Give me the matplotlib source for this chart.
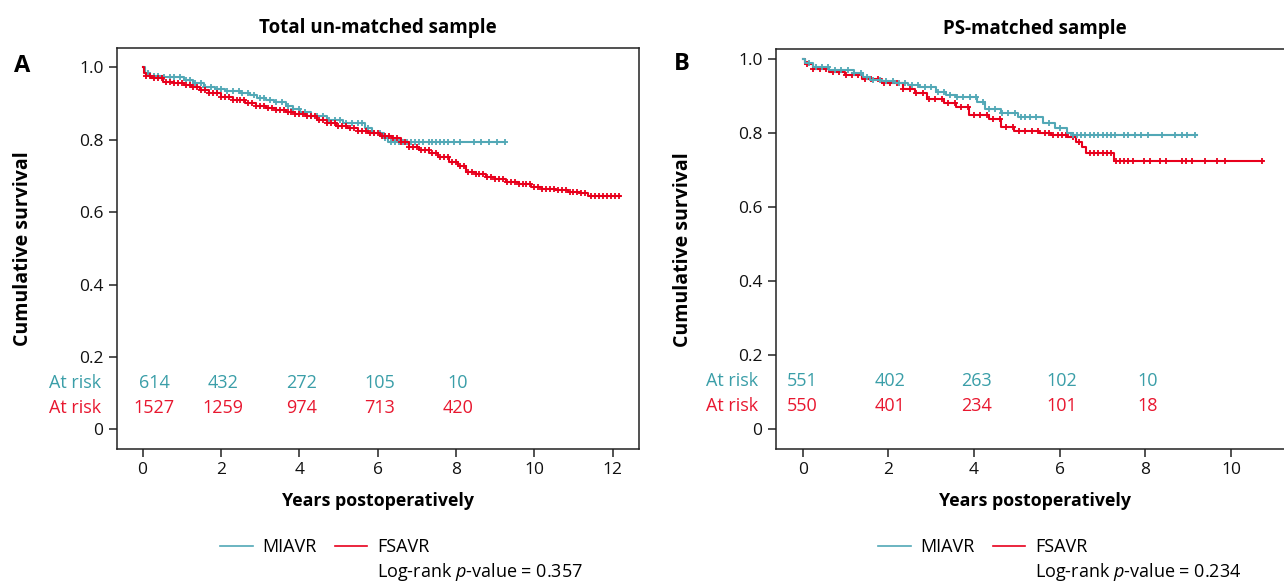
import numpy as np
import matplotlib
matplotlib.use('Agg')
import matplotlib.pyplot as plt
from matplotlib.lines import Line2D

plt.rcParams['font.family'] = ['Open Sans', 'DejaVu Sans']
plt.rcParams['mathtext.fontset'] = 'custom'
plt.rcParams['mathtext.rm'] = 'Open Sans'
plt.rcParams['mathtext.it'] = 'Open Sans:italic'

TEAL = '#52a8b6'
RED = '#e8001c'
TEAL_TXT = '#3a9ea8'
RED_TXT = '#e8172f'

# Panel A - total un-matched sample (step breakpoints)
a_miavr_t = [0, 0.05, 0.2, 0.53, 1.05, 1.3, 1.57, 1.85, 2.1, 2.5, 2.75, 2.93, 3.15, 3.35,
             3.66, 3.85, 4.02, 4.29, 4.7, 5.12, 5.69, 5.85, 6.16, 6.27, 9.25]
a_miavr_s = [1.0, 0.985, 0.976, 0.972, 0.965, 0.955, 0.945, 0.94, 0.935, 0.93, 0.922, 0.914,
             0.91, 0.905, 0.893, 0.885, 0.877, 0.864, 0.854, 0.845, 0.831, 0.818, 0.804, 0.794, 0.794]
a_miavr_cens = [0.15, 0.3, 0.4, 0.55, 0.7, 0.8, 0.95, 1.1, 1.2, 1.35, 1.5, 1.6, 1.75, 1.9, 2.0,
                2.15, 2.3, 2.45, 2.55, 2.7, 2.85, 3.0, 3.1, 3.25, 3.4, 3.55, 3.7, 3.85, 4.0, 4.15,
                4.3, 4.45, 4.6, 4.75, 4.9, 5.05, 5.2, 5.35, 5.5, 5.6, 5.75, 5.9, 6.05, 6.2, 6.35,
                6.45, 6.55, 6.65, 6.75, 6.85, 6.95, 7.05, 7.15, 7.3, 7.4, 7.5, 7.6, 7.7, 7.8, 7.95,
                8.1, 8.45, 8.65, 8.85, 9.05, 9.25]

a_fsavr_t = [0, 0.03, 0.1, 0.22, 0.53, 0.8, 1.05, 1.25, 1.47, 1.7, 1.99, 2.3, 2.62, 2.9, 3.14,
             3.4, 3.66, 3.9, 4.18, 4.45, 4.7, 4.95, 5.22, 5.5, 5.75, 6.05, 6.37, 6.6, 6.79, 7.05,
             7.31, 7.55, 7.83, 8.05, 8.25, 8.5, 8.77, 9.0, 9.29, 9.6, 9.92, 10.2, 10.54, 10.85,
             11.17, 11.38, 12.2]
a_fsavr_s = [1.0, 0.985, 0.975, 0.97, 0.96, 0.956, 0.951, 0.945, 0.937, 0.928, 0.919, 0.91, 0.9,
             0.893, 0.887, 0.882, 0.877, 0.871, 0.864, 0.855, 0.845, 0.838, 0.831, 0.824, 0.818,
             0.811, 0.804, 0.793, 0.781, 0.772, 0.762, 0.751, 0.739, 0.726, 0.712, 0.705, 0.698,
             0.691, 0.684, 0.677, 0.670, 0.665, 0.661, 0.656, 0.652, 0.643, 0.643]
a_fsavr_cens = [0.1, 0.2, 0.3, 0.4, 0.5, 0.6, 0.7, 0.8, 0.9, 1.0, 1.1, 1.2, 1.3, 1.4, 1.5, 1.6,
                1.7, 1.8, 1.9, 2.0, 2.1, 2.2, 2.3, 2.4, 2.5, 2.6, 2.7, 2.8, 2.9, 3.0, 3.1, 3.2,
                3.3, 3.4, 3.5, 3.6, 3.7, 3.8, 3.9, 4.0, 4.1, 4.2, 4.3, 4.4, 4.5, 4.6, 4.7, 4.8,
                4.9, 5.0, 5.1, 5.2, 5.3, 5.4, 5.5, 5.6, 5.7, 5.8, 5.9, 6.0, 6.1, 6.2, 6.3, 6.4,
                6.5, 6.6, 6.7, 6.8, 6.9, 7.0, 7.1, 7.2, 7.3, 7.4, 7.5, 7.6, 7.7, 7.8, 7.9, 8.0,
                8.1, 8.2, 8.3, 8.4, 8.5, 8.6, 8.7, 8.8, 8.9, 9.0, 9.1, 9.2, 9.3, 9.4, 9.5, 9.6,
                9.7, 9.8, 9.9, 10.0, 10.1, 10.2, 10.3, 10.4, 10.5, 10.6, 10.7, 10.8, 10.9, 11.0,
                11.1, 11.2, 11.3, 11.45, 11.55, 11.65, 11.75, 11.85, 11.95, 12.05, 12.15]

# Panel B - PS-matched sample
b_miavr_t = [0, 0.05, 0.23, 0.61, 1.19, 1.4, 1.57, 1.85, 2.15, 2.45, 2.72, 3.11, 3.35, 3.59,
             4.07, 4.26, 4.64, 5.03, 5.6, 5.89, 6.18, 6.3, 9.2]
b_miavr_s = [1.0, 0.988, 0.978, 0.969, 0.96, 0.95, 0.942, 0.938, 0.935, 0.928, 0.922, 0.91,
             0.902, 0.895, 0.883, 0.863, 0.852, 0.843, 0.826, 0.811, 0.798, 0.793, 0.793]
b_miavr_cens = [0.15, 0.3, 0.45, 0.6, 0.75, 0.9, 1.05, 1.2, 1.35, 1.5, 1.65, 1.8, 1.95, 2.1,
                2.25, 2.4, 2.55, 2.7, 2.85, 3.0, 3.15, 3.3, 3.45, 3.6, 3.75, 3.9, 4.05, 4.2,
                4.35, 4.5, 4.65, 4.8, 4.95, 5.1, 5.2, 5.3, 5.45, 5.75, 6.0, 6.3, 6.4, 6.5, 6.6,
                6.7, 6.8, 6.9, 7.0, 7.1, 7.2, 7.3, 7.5, 7.6, 7.75, 7.9, 8.05, 8.4, 8.7, 8.85,
                8.97, 9.17]

b_fsavr_t = [0, 0.05, 0.23, 0.61, 0.99, 1.38, 1.86, 2.34, 2.63, 2.91, 3.3, 3.59, 3.88, 4.36,
             4.64, 4.93, 5.51, 5.8, 6.18, 6.37, 6.52, 6.61, 7.26, 10.75]
b_fsavr_s = [1.0, 0.985, 0.973, 0.964, 0.955, 0.944, 0.935, 0.919, 0.906, 0.892, 0.879, 0.868,
             0.847, 0.836, 0.816, 0.805, 0.799, 0.793, 0.789, 0.775, 0.762, 0.744, 0.724, 0.724]
b_fsavr_cens = [0.1, 0.25, 0.4, 0.55, 0.7, 0.85, 1.0, 1.15, 1.3, 1.45, 1.6, 1.75, 1.9, 2.05,
                2.2, 2.35, 2.5, 2.65, 2.8, 2.95, 3.1, 3.25, 3.4, 3.55, 3.7, 3.85, 4.0, 4.15,
                4.3, 4.45, 4.6, 4.75, 4.9, 5.05, 5.2, 5.35, 5.5, 5.65, 5.75, 5.85, 5.95, 6.05,
                6.15, 6.3, 6.45, 6.7, 6.8, 6.9, 7.0, 7.1, 7.2, 7.32, 7.4, 7.5, 7.6, 7.72, 7.96,
                8.1, 8.34, 8.48, 8.86, 8.96, 9.1, 9.39, 9.68, 9.87, 10.72]

risk_years = [0, 2, 4, 6, 8]
a_risk_miavr = [614, 432, 272, 105, 10]
a_risk_fsavr = [1527, 1259, 974, 713, 420]
b_risk_miavr = [551, 402, 263, 102, 10]
b_risk_fsavr = [550, 401, 234, 101, 18]

y_ticks = [0, 0.2, 0.4, 0.6, 0.8, 1.0]
y_ticklabels = ['0', '0.2', '0.4', '0.6', '0.8', '1.0']


def surv_at(times, surv, t):
    i = np.searchsorted(times, t, side='right') - 1
    return np.asarray(surv)[i]


def km(ax, t, s, cens, color):
    ax.step(t, s, where='post', color=color, lw=1.5, zorder=3)
    ax.plot(cens, surv_at(t, s, cens), ls='none', marker='+', ms=5, mew=1.3,
            color=color, zorder=3)


W, H = 1284, 584
fig = plt.figure(figsize=(W / 100, H / 100), dpi=100)


def px_axes(l, t, r, b):
    return fig.add_axes([l / W, 1 - b / H, (r - l) / W, (b - t) / H])


axA = px_axes(116.7, 48, 639.3, 449.3)
axB = px_axes(775.7, 49.3, 1294, 449.3)

panels = [
    (axA, 'Total un-matched sample', 'A', (-0.66, 12.68), (-0.055, 1.053),
     [(a_miavr_t, a_miavr_s, a_miavr_cens, TEAL), (a_fsavr_t, a_fsavr_s, a_fsavr_cens, RED)],
     a_risk_miavr, a_risk_fsavr, 0.3, '0.357', [0, 2, 4, 6, 8, 10, 12], 220),
    (axB, 'PS-matched sample', 'B', (-0.63, 11.47), (-0.056, 1.025),
     [(b_fsavr_t, b_fsavr_s, b_fsavr_cens, RED), (b_miavr_t, b_miavr_s, b_miavr_cens, TEAL)],
     b_risk_miavr, b_risk_fsavr, 0.0, '0.234', [0, 2, 4, 6, 8, 10], 878),
]

for ax, title, letter, xl, yl, curves, rm, rf, shift, pval, xt, leg_x in panels:
    for t, s, c, col in curves:
        km(ax, t, s, c, col)
    ax.set_xlim(*xl)
    ax.set_ylim(*yl)
    ax.set_xticks(xt)
    ax.set_yticks(y_ticks)
    ax.set_yticklabels(y_ticklabels)
    ax.tick_params(labelsize=12.5, length=6, width=1.1, color='#222222', labelcolor='#111111')
    for sp in ax.spines.values():
        sp.set_linewidth(1.1)
        sp.set_color('#222222')
    ax.set_title(title, fontsize=13.5, fontweight='bold', pad=11)
    ax.set_xlabel('Years postoperatively', fontsize=12.8, fontweight='bold', labelpad=10)
    ax.set_ylabel('Cumulative survival', fontsize=14, fontweight='bold')
    ax.yaxis.set_label_coords(-0.16, 0.5)

    for i, yr in enumerate(risk_years):
        x = yr + (shift if i == 0 else 0.05)
        ax.text(x, 0.128, str(rm[i]), color=TEAL_TXT, fontsize=13, ha='center', va='center')
        ax.text(x, 0.060, str(rf[i]), color=RED_TXT, fontsize=13, ha='center', va='center')
    ax.text(-1.05, 0.128, 'At risk', color=TEAL_TXT, fontsize=13, ha='right', va='center')
    ax.text(-1.05, 0.060, 'At risk', color=RED_TXT, fontsize=13, ha='right', va='center')

    handles = [Line2D([], [], color=TEAL, lw=1.2), Line2D([], [], alpha=0),
               Line2D([], [], color=RED, lw=1.2), Line2D([], [], alpha=0)]
    labels = ['MIAVR', ' ', 'FSAVR', 'Log-rank $p$-value = ' + pval]
    fig.legend(handles, labels, ncol=2, frameon=False, fontsize=13, loc='upper left',
               bbox_to_anchor=(leg_x / W, 1 - 538 / H), borderpad=0, borderaxespad=0,
               handlelength=1.8, handletextpad=0.55, columnspacing=1.0, labelspacing=0.3)

fig.text(22 / W, 1 - 66 / H, 'A', fontsize=17, fontweight='bold', ha='center', va='center')
fig.text(682 / W, 1 - 64 / H, 'B', fontsize=17, fontweight='bold', ha='center', va='center')

fig.savefig('out.png', dpi=100)
